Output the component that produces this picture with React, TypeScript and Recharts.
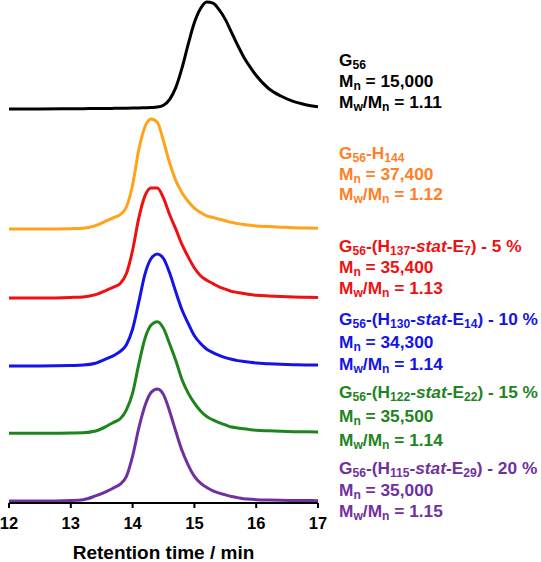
import React from "react";
import { LineChart, Line, XAxis, YAxis } from "recharts";

// Retention time grid (min)
const times = [12, 12.5, 13, 13.2, 13.4, 13.6, 13.7, 13.8, 13.9, 14.0, 14.1, 14.2, 14.3, 14.4, 14.5, 14.6, 14.7, 14.8, 14.9, 15.0, 15.1, 15.2, 15.3, 15.4, 15.5, 15.6, 15.7, 15.8, 15.9, 16.0, 16.2, 16.4, 16.6, 16.8, 17.0];

// Normalized detector signals (peak = 1)
const g56 = [0, 0, 0.002, 0.003, 0.004, 0.005, 0.006, 0.007, 0.008, 0.009, 0.01, 0.012, 0.014, 0.018, 0.035, 0.09, 0.2, 0.38, 0.6, 0.8, 0.93, 0.99, 0.98, 0.92, 0.83, 0.71, 0.59, 0.48, 0.39, 0.31, 0.19, 0.12, 0.07, 0.04, 0.02];
const g56h144 = [0, 0, 0.003, 0.006, 0.03, 0.08, 0.105, 0.13, 0.2, 0.4, 0.72, 0.93, 1.0, 0.97, 0.8, 0.6, 0.44, 0.33, 0.25, 0.19, 0.15, 0.12, 0.105, 0.09, 0.075, 0.06, 0.05, 0.04, 0.034, 0.028, 0.022, 0.017, 0.012, 0.009, 0.006];
const stat5 = [0, 0, 0.005, 0.01, 0.03, 0.075, 0.1, 0.13, 0.22, 0.43, 0.72, 0.92, 0.99, 0.99, 0.9, 0.75, 0.62, 0.48, 0.37, 0.27, 0.2, 0.16, 0.13, 0.1, 0.08, 0.06, 0.05, 0.04, 0.032, 0.025, 0.018, 0.013, 0.009, 0.007, 0.005];
const stat10 = [0, 0, 0.004, 0.008, 0.025, 0.07, 0.095, 0.13, 0.19, 0.33, 0.57, 0.82, 0.96, 1.0, 0.96, 0.83, 0.66, 0.5, 0.38, 0.27, 0.2, 0.15, 0.12, 0.095, 0.075, 0.06, 0.048, 0.04, 0.033, 0.027, 0.02, 0.015, 0.012, 0.01, 0.01];
const stat15 = [0, 0, 0.003, 0.005, 0.02, 0.07, 0.1, 0.13, 0.21, 0.36, 0.62, 0.85, 0.97, 1.0, 0.94, 0.8, 0.65, 0.48, 0.36, 0.27, 0.2, 0.15, 0.12, 0.095, 0.075, 0.056, 0.047, 0.04, 0.033, 0.027, 0.022, 0.018, 0.015, 0.013, 0.012];
const stat20 = [0, 0, 0.005, 0.012, 0.045, 0.09, 0.12, 0.15, 0.22, 0.4, 0.65, 0.85, 0.97, 1.0, 0.95, 0.8, 0.62, 0.45, 0.32, 0.22, 0.16, 0.12, 0.09, 0.07, 0.055, 0.04, 0.03, 0.02, 0.016, 0.012, 0.008, 0.006, 0.005, 0.004, 0.003];

const xTicks = [12, 13, 14, 15, 16, 17];

// Stacking layout (offset, scale) for each trace
const series = [
  { key: "g56", data: g56, offset: 3.94, scale: 1.08, color: "#000000" },
  { key: "g56h144", data: g56h144, offset: 2.74, scale: 1.1, color: "#FFA31A" },
  { key: "stat5", data: stat5, offset: 2.05, scale: 1.11, color: "#EE1111" },
  { key: "stat10", data: stat10, offset: 1.37, scale: 1.12, color: "#1414E6" },
  { key: "stat15", data: stat15, offset: 0.697, scale: 1.116, color: "#1E841E" },
  { key: "stat20", data: stat20, offset: 0.02, scale: 1.12, color: "#7030A0" },
];

const tableData = times.map((t, i) => {
  const row: Record<string, number> = { t };
  series.forEach((s) => {
    row[s.key] = s.offset + s.scale * s.data[i];
  });
  return row;
});

const FONT = "'Liberation Sans', Arial, sans-serif";

type LabelDef = { top: number; lh: number; color: string; lines: React.ReactNode[] };

const sub = (s: string) => (
  <sub style={{ fontSize: "0.7em", verticalAlign: "-0.25em", lineHeight: 0 }}>{s}</sub>
);

const labels: LabelDef[] = [
  {
    top: 50,
    lh: 21,
    color: "#000000",
    lines: [
      <>G{sub("56")}</>,
      <>M{sub("n")} = 15,000</>,
      <>M{sub("w")}/M{sub("n")} = 1.11</>,
    ],
  },
  {
    top: 143,
    lh: 20.5,
    color: "#FF7F27",
    lines: [
      <>G{sub("56")}-H{sub("144")}</>,
      <>M{sub("n")} = 37,400</>,
      <>M{sub("w")}/M{sub("n")} = 1.12</>,
    ],
  },
  {
    top: 236,
    lh: 21,
    color: "#EE1111",
    lines: [
      <>G{sub("56")}-(H{sub("137")}-<i>stat</i>-E{sub("7")}) - 5 %</>,
      <>M{sub("n")} = 35,400</>,
      <>M{sub("w")}/M{sub("n")} = 1.13</>,
    ],
  },
  {
    top: 308,
    lh: 22.5,
    color: "#1414E6",
    lines: [
      <>G{sub("56")}-(H{sub("130")}-<i>stat</i>-E{sub("14")}) - 10 %</>,
      <>M{sub("n")} = 34,300</>,
      <>M{sub("w")}/M{sub("n")} = 1.14</>,
    ],
  },
  {
    top: 380,
    lh: 24,
    color: "#1E841E",
    lines: [
      <>G{sub("56")}-(H{sub("122")}-<i>stat</i>-E{sub("22")}) - 15 %</>,
      <>M{sub("n")} = 35,500</>,
      <>M{sub("w")}/M{sub("n")} = 1.14</>,
    ],
  },
  {
    top: 458,
    lh: 21.5,
    color: "#7030A0",
    lines: [
      <>G{sub("56")}-(H{sub("115")}-<i>stat</i>-E{sub("29")}) - 20 %</>,
      <>M{sub("n")} = 35,000</>,
      <>M{sub("w")}/M{sub("n")} = 1.15</>,
    ],
  },
];

export default function App() {
  return (
    <div
      style={{
        position: "absolute",
        left: 0,
        top: 0,
        width: 541,
        height: 562,
        background: "#ffffff",
        overflow: "hidden",
        fontFamily: FONT,
      }}
    >
      <LineChart
        width={541}
        height={562}
        data={tableData}
        margin={{ top: 0, right: 223, left: 9, bottom: 0 }}
      >
        <XAxis
          dataKey="t"
          type="number"
          domain={[12, 17]}
          ticks={xTicks}
          height={59}
          axisLine={{ stroke: "#000", strokeWidth: 2 }}
          tickLine={{ stroke: "#000", strokeWidth: 2 }}
          tickSize={5}
          tickMargin={9}
          tick={{ fill: "#000", fontSize: 16.5, fontWeight: "bold", fontFamily: FONT }}
          label={{
            value: "Retention time / min",
            position: "insideBottom",
            offset: 3,
            fill: "#000",
            fontSize: 19,
            fontWeight: "bold",
            fontFamily: FONT,
          }}
        />
        <YAxis hide type="number" domain={[0, 5.03]} />
        {series.map((s) => (
          <Line
            key={s.key}
            dataKey={s.key}
            type="monotone"
            stroke={s.color}
            strokeWidth={3}
            dot={false}
            isAnimationActive={false}
          />
        ))}
      </LineChart>
      {labels.map((l, i) => (
        <div
          key={i}
          style={{
            position: "absolute",
            left: 339,
            top: l.top,
            color: l.color,
            fontWeight: "bold",
            fontSize: 17.3,
            lineHeight: `${l.lh}px`,
            whiteSpace: "nowrap",
          }}
        >
          {l.lines.map((ln, j) => (
            <div key={j}>{ln}</div>
          ))}
        </div>
      ))}
    </div>
  );
}
